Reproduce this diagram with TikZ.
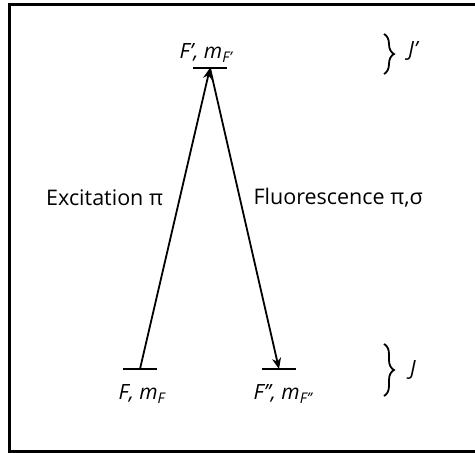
\documentclass[tikz,border=0pt]{standalone}
\usepackage{fontspec}
\setmainfont{Open Sans}
\usetikzlibrary{positioning, arrows.meta, decorations.pathreplacing}

\begin{document}
\begin{tikzpicture}[x=1pt, y=-1pt,
    level/.style={line width=2.8pt},
    trans/.style={-{Stealth[length=11pt, width=9pt]}, line width=1.8pt},
    lab/.style={font=\fontsize{21.5}{24}\selectfont, inner sep=0pt},
    statelab/.style={font=\fontsize{21}{24}\selectfont\itshape, inner sep=0pt},
    mfold/.style={decorate, decoration={brace, amplitude=10pt}, line width=1.8pt}
]
\useasboundingbox (0,0) rectangle (475,453);
\draw[line width=3pt] (9,4) rectangle (476,451);

% hyperfine levels
\coordinate (up) at (210,68);
\coordinate (lowA) at (140,369);
\coordinate (lowB) at (279,369);
\draw[level] ([xshift=-17pt]up) -- ([xshift=17pt]up);
\draw[level] ([xshift=-17pt]lowA) -- ([xshift=17pt]lowA);
\draw[level] ([xshift=-17pt]lowB) -- ([xshift=17pt]lowB);

\node[statelab] (upLab) at (206,53) {F', m\textsubscript{F'}};
\node[statelab] (lowALab) at (142,394) {F, m\textsubscript{F}};
\node[statelab] (lowBLab) at (283,394) {F'{}', m\textsubscript{F'{}'}};

% transitions
\draw[trans] (lowA) -- node[lab, pos=.57, left=16pt] {Excitation π} (up);
\draw[trans] (up) -- node[lab, pos=.43, right=13pt] {Fluorescence π,σ} (lowB);

% fine-structure braces
\coordinate (jpTop) at (384,34);
\coordinate (jpBot) at (384,74);
\coordinate (jTop) at (384,344);
\coordinate (jBot) at (384,396);
\draw[mfold] (jpTop) -- (jpBot);
\draw[mfold] (jTop) -- (jBot);
\node[statelab] (jpLab) at (413,51) {J'};
\node[statelab] (jLab) at (413,370) {J};
\end{tikzpicture}
\end{document}
